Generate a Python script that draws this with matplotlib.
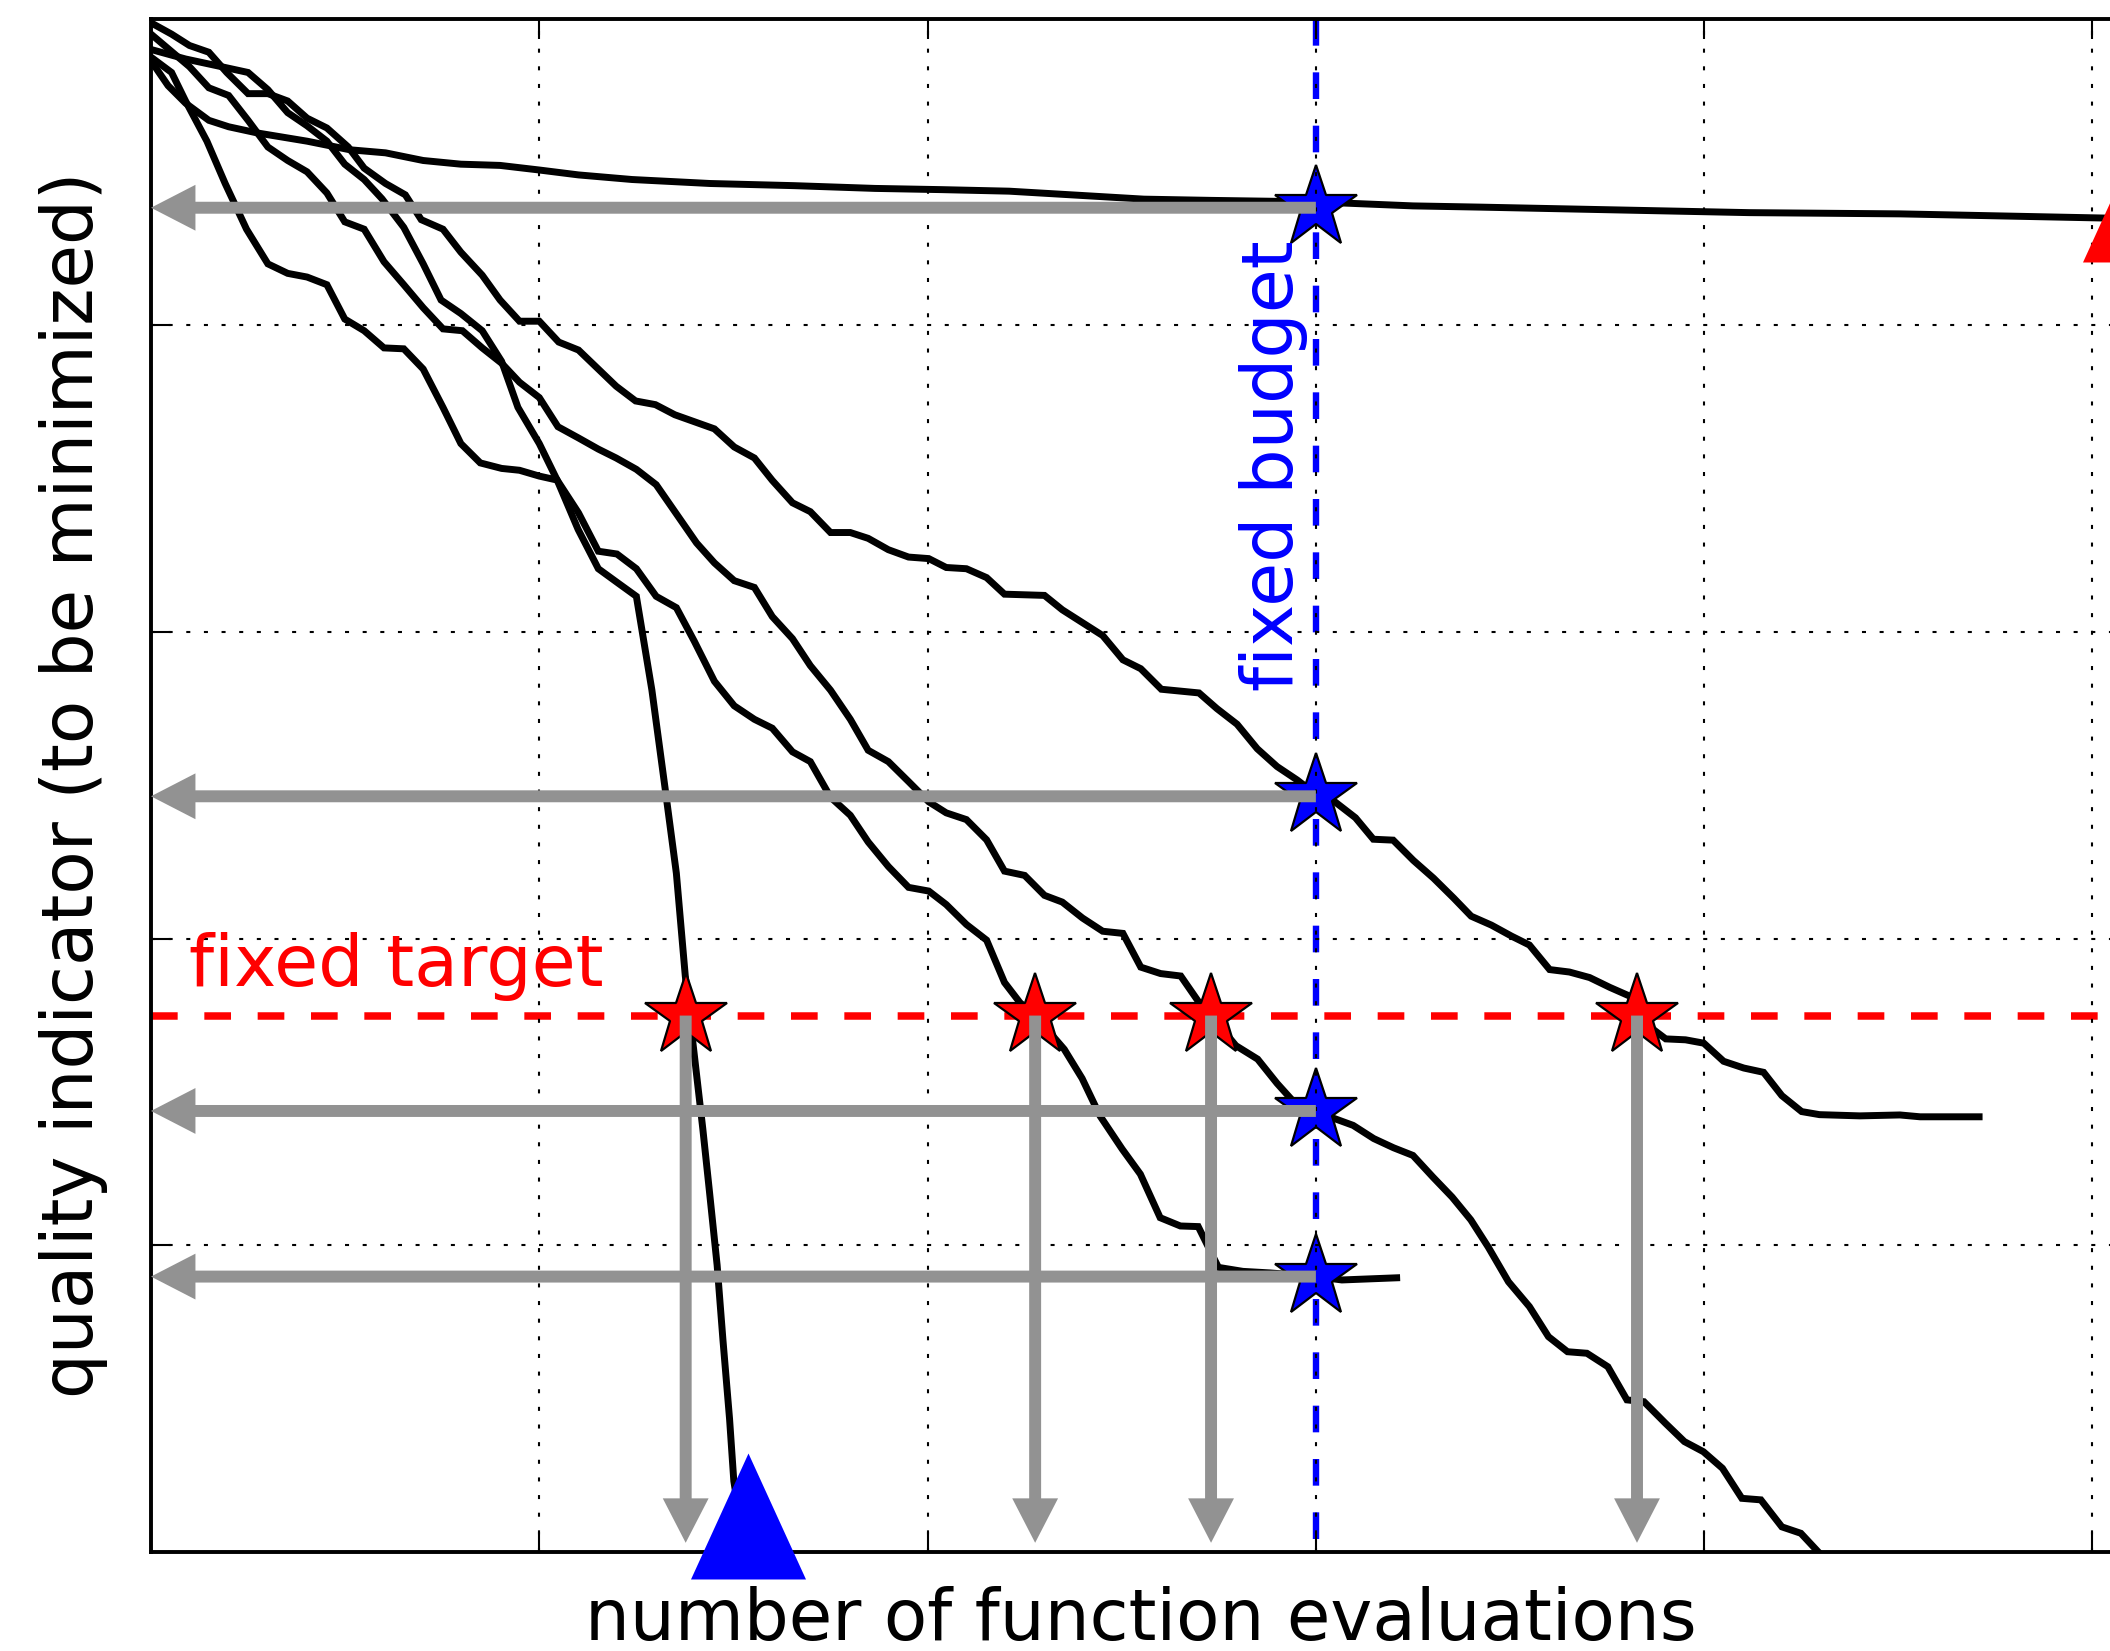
import matplotlib
matplotlib.use('Agg')
import matplotlib.pyplot as plt

plt.rcParams['font.family'] = ['DejaVu Sans']
plt.rcParams['lines.scale_dashes'] = False

# ---------------- data ----------------
tick_x = [0, 1, 2, 3, 4, 5]
tick_y = [0, 1, 2, 3, 4, 5]

run1 = [(0, 4.862), (0.044, 4.781), (0.089, 4.724), (0.149, 4.668), (0.200, 4.647),
        (0.273, 4.627), (0.402, 4.600), (0.512, 4.572), (0.604, 4.562), (0.701, 4.537),
        (0.798, 4.525), (0.899, 4.521), (1.000, 4.506), (1.101, 4.490), (1.239, 4.475),
        (1.440, 4.462), (1.656, 4.455), (1.864, 4.446), (2.037, 4.442), (2.210, 4.437),
        (2.384, 4.424), (2.557, 4.411), (2.730, 4.407), (3.000, 4.402), (3.250, 4.389),
        (3.423, 4.385), (3.770, 4.376), (4.116, 4.367), (4.504, 4.363), (5.045, 4.349),
        (5.120, 4.347)]

run2 = [(0, 4.986), (0.053, 4.949), (0.099, 4.912), (0.149, 4.890), (0.195, 4.824),
        (0.250, 4.755), (0.301, 4.755), (0.352, 4.731), (0.402, 4.675), (0.453, 4.643),
        (0.508, 4.581), (0.549, 4.512), (0.604, 4.462), (0.655, 4.425), (0.696, 4.344),
        (0.752, 4.313), (0.798, 4.238), (0.853, 4.163), (0.899, 4.082), (0.949, 4.013),
        (1.000, 4.013), (1.050, 3.945), (1.101, 3.919), (1.147, 3.863), (1.198, 3.801),
        (1.248, 3.753), (1.299, 3.741), (1.349, 3.708), (1.451, 3.662), (1.502, 3.603),
        (1.554, 3.567), (1.600, 3.494), (1.652, 3.421), (1.698, 3.392), (1.750, 3.324),
        (1.801, 3.324), (1.847, 3.305), (1.899, 3.268), (1.951, 3.244), (2.003, 3.239),
        (2.048, 3.210), (2.100, 3.206), (2.152, 3.177), (2.198, 3.123), (2.301, 3.119),
        (2.347, 3.072), (2.451, 2.988), (2.503, 2.909), (2.549, 2.880), (2.602, 2.813),
        (2.699, 2.801), (2.745, 2.750), (2.797, 2.699), (2.849, 2.619), (2.900, 2.561),
        (2.952, 2.517), (3.000, 2.470), (3.050, 2.445), (3.102, 2.394), (3.148, 2.324),
        (3.199, 2.321), (3.251, 2.255), (3.303, 2.197), (3.355, 2.132), (3.400, 2.073),
        (3.452, 2.044), (3.504, 2.008), (3.550, 1.979), (3.602, 1.899), (3.653, 1.891),
        (3.705, 1.873), (3.757, 1.841), (3.809, 1.812), (3.855, 1.717), (3.901, 1.673),
        (3.952, 1.670), (3.999, 1.659), (4.050, 1.600), (4.102, 1.578), (4.153, 1.564),
        (4.200, 1.488), (4.251, 1.436), (4.297, 1.426), (4.401, 1.422), (4.504, 1.425),
        (4.556, 1.419), (4.708, 1.419)]

run3 = [(0, 4.949), (0.099, 4.843), (0.149, 4.774), (0.200, 4.749), (0.250, 4.668),
        (0.301, 4.581), (0.352, 4.537), (0.402, 4.500), (0.453, 4.431), (0.499, 4.337),
        (0.549, 4.313), (0.600, 4.207), (0.651, 4.132), (0.701, 4.057), (0.752, 3.988),
        (0.802, 3.982), (0.853, 3.926), (0.903, 3.876), (0.949, 3.814), (1.000, 3.764),
        (1.048, 3.669), (1.100, 3.633), (1.152, 3.596), (1.198, 3.567), (1.250, 3.530),
        (1.301, 3.480), (1.353, 3.385), (1.405, 3.290), (1.451, 3.225), (1.502, 3.167),
        (1.554, 3.145), (1.600, 3.050), (1.652, 2.978), (1.698, 2.890), (1.750, 2.810),
        (1.801, 2.715), (1.847, 2.614), (1.899, 2.577), (1.951, 2.512), (2.003, 2.446),
        (2.048, 2.410), (2.100, 2.388), (2.152, 2.322), (2.198, 2.220), (2.250, 2.206),
        (2.301, 2.141), (2.347, 2.119), (2.399, 2.067), (2.451, 2.024), (2.503, 2.017),
        (2.549, 1.907), (2.600, 1.886), (2.652, 1.878), (2.699, 1.792), (2.730, 1.749),
        (2.794, 1.651), (2.850, 1.607), (2.900, 1.528), (2.952, 1.455), (3.000, 1.438),
        (3.044, 1.415), (3.096, 1.391), (3.149, 1.348), (3.200, 1.318), (3.250, 1.293),
        (3.301, 1.223), (3.351, 1.157), (3.399, 1.083), (3.444, 0.994), (3.496, 0.881),
        (3.550, 0.800), (3.599, 0.702), (3.648, 0.653), (3.698, 0.648), (3.752, 0.604),
        (3.801, 0.496), (3.845, 0.490), (3.900, 0.420), (3.949, 0.360), (3.998, 0.327),
        (4.047, 0.273), (4.097, 0.175), (4.146, 0.170), (4.200, 0.082), (4.249, 0.061),
        (4.294, 0.000)]

run4 = [(0, 4.874), (0.053, 4.824), (0.089, 4.731), (0.144, 4.600), (0.191, 4.462),
        (0.246, 4.313), (0.301, 4.200), (0.352, 4.169), (0.402, 4.157), (0.453, 4.132),
        (0.499, 4.020), (0.549, 3.982), (0.600, 3.926), (0.651, 3.923), (0.701, 3.857),
        (0.752, 3.732), (0.798, 3.614), (0.848, 3.551), (0.903, 3.533), (0.949, 3.527),
        (1.000, 3.508), (1.046, 3.495), (1.101, 3.388), (1.152, 3.263), (1.200, 3.254),
        (1.250, 3.206), (1.301, 3.116), (1.353, 3.079), (1.399, 2.970), (1.451, 2.839),
        (1.502, 2.759), (1.554, 2.715), (1.600, 2.686), (1.652, 2.609), (1.698, 2.577),
        (1.750, 2.461), (1.801, 2.402), (1.847, 2.315), (1.899, 2.235), (1.951, 2.167),
        (2.003, 2.155), (2.048, 2.111), (2.100, 2.046), (2.152, 1.995), (2.198, 1.857),
        (2.238, 1.791), (2.277, 1.749), (2.352, 1.639), (2.398, 1.544), (2.444, 1.422),
        (2.501, 1.314), (2.548, 1.232), (2.599, 1.090), (2.651, 1.063), (2.697, 1.061),
        (2.749, 0.928), (2.812, 0.915), (2.881, 0.910), (3.000, 0.898), (3.067, 0.887),
        (3.208, 0.894)]

run5 = [(0, 4.899), (0.089, 4.868), (0.181, 4.843), (0.250, 4.824), (0.301, 4.768),
        (0.352, 4.693), (0.402, 4.650), (0.453, 4.600), (0.499, 4.525), (0.549, 4.475),
        (0.595, 4.412), (0.651, 4.319), (0.701, 4.200), (0.747, 4.082), (0.798, 4.038),
        (0.853, 3.982), (0.903, 3.882), (0.945, 3.732), (1.000, 3.614), (1.046, 3.495),
        (1.100, 3.334), (1.152, 3.206), (1.203, 3.159), (1.250, 3.116), (1.290, 2.810),
        (1.324, 2.490), (1.353, 2.213), (1.376, 1.878), (1.393, 1.689), (1.421, 1.381),
        (1.438, 1.178), (1.458, 0.935), (1.473, 0.691), (1.490, 0.434), (1.501, 0.231),
        (1.515, 0.120)]

runs = [run1, run2, run3, run4, run5]

budget_x = 3.0
budget_hits_y = [4.383, 2.464, 1.438, 0.898]
target_y = 1.749
target_hits_x = [1.377, 2.277, 2.730, 3.827]
arrow_floor_y = 0.03
blue_triangle = (1.5375, 0.117)
red_triangle = (5.122, 4.412)

xlabel = 'number of function evaluations'
ylabel = 'quality indicator (to be minimized)'
target_label = 'fixed target'
budget_label = 'fixed budget'

# ---------------- figure ----------------
W, H = 2110, 1651
fig = plt.figure(figsize=(W / 100, H / 100), dpi=100)
ax = fig.add_axes([151 / W, 99 / H, 1980.3 / W, 1533.5 / H])
ax.set_xlim(0, 5.1)
ax.set_ylim(0, 5)

for r in runs:
    xs, ys = zip(*r)
    ax.plot(xs, ys, color='k', lw=5.0, zorder=2, solid_joinstyle='miter')

ax.plot([budget_x, budget_x], [5, 0], color='#0000ff', lw=4.6,
        linestyle=(0, (19.2, 19.2)), zorder=2)
ax.plot([0, 5.1], [target_y, target_y], color='#ff0000', lw=5.4,
        linestyle=(0, (19.2, 19.2)), zorder=2)

ax.plot([budget_x] * len(budget_hits_y), budget_hits_y, ls='none', marker='*',
        ms=62, mfc='#0000ff', mec='k', mew=1.6, zorder=2)
ax.plot(target_hits_x, [target_y] * len(target_hits_x), ls='none', marker='*',
        ms=62, mfc='#ff0000', mec='k', mew=1.6, zorder=2)

gray = '#929292'
aprops = dict(width=8.6, headwidth=33, headlength=32, shrink=0,
              facecolor=gray, edgecolor=gray, linewidth=0)
for yb in budget_hits_y:
    ax.annotate('', xy=(0, yb), xytext=(budget_x, yb), arrowprops=aprops, zorder=3)
for xt in target_hits_x:
    ax.annotate('', xy=(xt, arrow_floor_y), xytext=(xt, target_y), arrowprops=aprops, zorder=3)

tri = [(0, 1), (-0.913, -1), (0.913, -1), (0, 1)]
ax.plot([blue_triangle[0]], [blue_triangle[1]], ls='none', marker=tri, ms=90.7,
        mfc='#0000ff', mec='#0000ff', mew=0, clip_on=False, zorder=10)
ax.plot([red_triangle[0]], [red_triangle[1]], ls='none', marker=tri, ms=90.7,
        mfc='#ff0000', mec='#ff0000', mew=0, clip_on=False, zorder=10)

ax.text(0.097, 1.845, target_label, color='#ff0000', fontsize=51.5,
        ha='left', va='baseline', zorder=4)
ax.text(2.942, 2.806, budget_label, color='#0000ff', fontsize=51.5, rotation=90,
        rotation_mode='anchor', ha='left', va='baseline', zorder=4)

ax.set_xticks(tick_x)
ax.set_yticks(tick_y)
ax.tick_params(direction='in', length=14.5, width=1.5, top=True, right=True,
               labelbottom=False, labelleft=False, color='k')
ax.set_axisbelow(False)
ax.grid(True, color='k', lw=1.5, linestyle=(0, (2.9, 9.8)))
for s in ax.spines.values():
    s.set_linewidth(2.8)

ax.set_xlabel(xlabel, fontsize=51)
ax.xaxis.set_label_coords(0.5, -0.022)
ax.set_ylabel(ylabel, fontsize=51)
ax.yaxis.set_label_coords(-0.0217, 0.5)

fig.savefig('out.png', dpi=100)
